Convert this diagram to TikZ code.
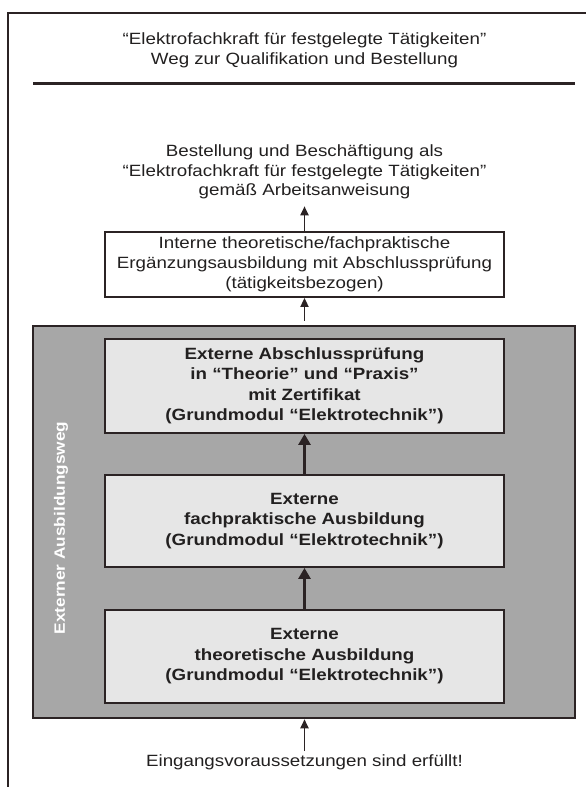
\documentclass[tikz,border=0pt]{standalone}
\usepackage{fontspec}
\setmainfont{Liberation Sans}[FakeStretch=1.15]
\usetikzlibrary{arrows.meta}
\definecolor{ink}{HTML}{2B2324}
\definecolor{panel}{HTML}{A7A7A7}
\definecolor{cell}{HTML}{E6E6E6}
\definecolor{txt}{HTML}{222020}
\begin{document}
\begin{tikzpicture}[x=1pt,y=1pt,
  plain/.style={font=\fontsize{16.3}{20}\selectfont, text=txt, align=center, inner sep=0pt},
  whitebox/.style={draw=ink, line width=1.8pt, fill=white, minimum width=399pt, minimum height=65pt, text=txt, align=center, font=\fontsize{16.3}{20}\selectfont, inner sep=0pt},
  cellbox/.style={draw=ink, line width=1.8pt, fill=cell, minimum width=399pt, text=txt, align=center, font=\bfseries\fontsize{16.3}{20.5}\selectfont, inner sep=0pt},
  thin/.style={draw=ink, line width=1.8pt, -{Triangle[length=9pt,width=8pt]}},
  thick/.style={draw=ink, line width=3pt, -{Triangle[length=11pt,width=12pt]}},
]
\useasboundingbox (0,0) rectangle (586,-787);
\fill[white] (0,0) rectangle (586,-787);
\draw[ink, line width=2pt] (8,-12.5) rectangle (600,-800);

\node[plain] (title) at (304.5,-50.5) {“Elektrofachkraft für festgelegte Tätigkeiten”\\Weg zur Qualifikation und Bestellung};
\coordinate (ruleL) at (33,-83);
\coordinate (ruleR) at (575,-83);
\draw[ink, line width=3pt] (ruleL) -- (ruleR);

\node[plain, font=\fontsize{16.3}{19.5}\selectfont] (best) at (304.5,-172) {Bestellung und Beschäftigung als\\“Elektrofachkraft für festgelegte Tätigkeiten”\\gemäß Arbeitsanweisung};

\node[whitebox] (intern) at (304.5,-264.5) {Interne theoretische/fachpraktische\\Ergänzungsausbildung mit Abschlussprüfung\\(tätigkeitsbezogen)};

\node[draw=ink, line width=2.5pt, fill=panel, minimum width=542pt, minimum height=392pt, inner sep=0pt] (panel) at (304,-522) {};

\node[white, font=\bfseries\fontsize{15}{18}\selectfont, rotate=90, inner sep=0pt] (side) at (61,-528) {Externer Ausbildungsweg};

\node[cellbox, minimum height=94pt] (b1) at (304.5,-386) {Externe Abschlussprüfung\\in “Theorie” und “Praxis”\\mit Zertifikat\\(Grundmodul “Elektrotechnik”)};
\node[cellbox, minimum height=92pt] (b2) at (304.5,-521) {Externe\\fachpraktische Ausbildung\\(Grundmodul “Elektrotechnik”)};
\node[cellbox, minimum height=93pt] (b3) at (304.5,-656.5) {Externe\\theoretische Ausbildung\\(Grundmodul “Elektrotechnik”)};

\node[plain] (eing) at (304.5,-762) {Eingangsvoraussetzungen sind erfüllt!};

\draw[thin, shorten >=7pt] (intern.north) -- (intern.north |- best.south);
\draw[thin, shorten <=4pt] (panel.north -| intern.south) -- (intern.south);
\draw[thick] (b2.north) -- (b1.south);
\draw[thick] (b3.north) -- (b2.south);
\draw[thin, shorten <=3pt] (eing.north) -- (eing.north |- panel.south);
\end{tikzpicture}
\end{document}
